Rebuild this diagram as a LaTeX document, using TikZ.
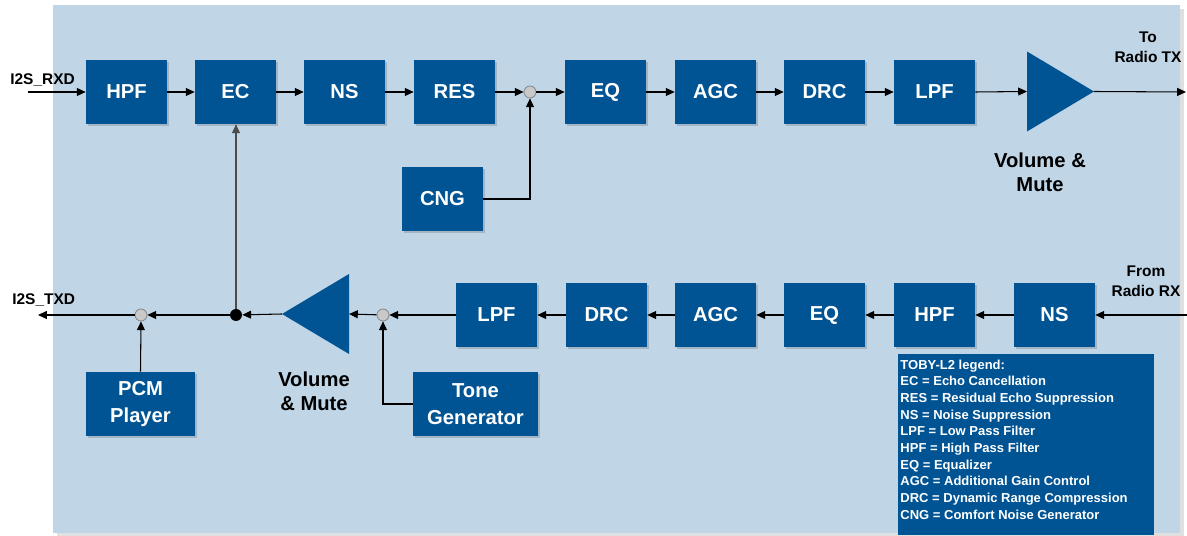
\documentclass[tikz,border=0pt]{standalone}
\usepackage{fontspec}
\setmainfont{Liberation Sans}
\usetikzlibrary{shapes.geometric,arrows.meta,shadows}
\definecolor{boxblue}{HTML}{005494}
\definecolor{panel}{HTML}{C0D5E6}
\definecolor{junc}{HTML}{C8C8C8}

\begin{document}
\begin{tikzpicture}[x=0.02cm, y=-0.02cm,
  block/.style={rectangle, fill=boxblue, text=white, minimum width=1.62cm, minimum height=1.28cm, inner sep=0pt, align=center, font=\bfseries\fontsize{11.5}{15.3}\selectfont,
    drop shadow={shadow xshift=0.45mm, shadow yshift=-0.45mm, fill=black, opacity=0.15}},
  amp/.style={isosceles triangle, isosceles triangle stretches, fill=boxblue, minimum width=1.6cm, minimum height=1.34cm, inner sep=0pt, outer sep=0pt},
  junction/.style={circle, draw=gray, fill=junc, minimum size=0.24cm, inner sep=0pt},
  tap/.style={circle, fill=black, minimum size=0.24cm, inner sep=0pt},
  sig/.style={-{Triangle[length=5pt, width=4.5pt]}, line width=0.6pt},
  tag/.style={font=\bfseries\fontsize{8.8}{11.3}\selectfont, align=center},
  caption/.style={font=\bfseries\fontsize{11.5}{13.6}\selectfont, align=center}
]
  \useasboundingbox (0,0) rectangle (1187,536);
  \fill[black, opacity=0.12] (57,9) rectangle (1184,537);
  \fill[panel] (53,5) rectangle (1180,533);

  % uplink path
  \node[block] (hpf1) at (126.5,92) {HPF};
  \node[block] (ec) at (235.5,92) {EC};
  \node[block] (ns1) at (344.5,92) {NS};
  \node[block] (res) at (454.5,92) {RES};
  \node[junction] (sum1) at (530,92) {};
  \node[block] (eq1) at (605.5,92) {EQ};
  \node[block] (agc1) at (715.5,92) {AGC};
  \node[block] (drc1) at (824.5,92) {DRC};
  \node[block] (lpf1) at (934.5,92) {LPF};
  \node[amp, anchor=lower side] (vol1) at (1027,91.5) {};
  \node[block] (cng) at (442.5,199) {CNG};
  \coordinate (rxin) at (28,92);
  \coordinate (txout) at (1186,92);

  % downlink path
  \node[block] (ns2) at (1054.5,315) {NS};
  \node[block] (hpf2) at (934.5,315) {HPF};
  \node[block] (eq2) at (824.5,315) {EQ};
  \node[block] (agc2) at (715.5,315) {AGC};
  \node[block] (drc2) at (606.5,315) {DRC};
  \node[block] (lpf2) at (496.5,315) {LPF};
  \node[junction] (sum2) at (383,315) {};
  \node[amp, shape border rotate=180, anchor=lower side] (vol2) at (349,314) {};
  \node[tap] (split) at (236,315) {};
  \node[junction] (sum3) at (141,315) {};
  \node[block, minimum width=2.18cm] (pcm) at (140.5,404) {PCM\\Player};
  \node[block, minimum width=2.5cm] (tone) at (475.5,404) {Tone\\Generator};
  \coordinate (rxradio) at (1187,315);
  \coordinate (txin) at (38,315);

  \node[tag, inner sep=0pt, anchor=base west] (rxlbl) at (10,85) {I2S\_RXD};
  \node[tag, inner sep=0pt, anchor=base west] (txlbl) at (12,305) {I2S\_TXD};
  \node[tag] (totx) at (1148,47.5) {To\\Radio TX};
  \node[tag] (fromrx) at (1146,281.5) {From\\Radio RX};
  \node[caption] (vol1lbl) at (1040,172) {Volume \&\\Mute};
  \node[caption] (vol2lbl) at (314,391) {Volume\\\& Mute};

  \node[fill=boxblue, text=white, anchor=north west, inner xsep=1.2pt, inner ysep=3pt] (legend) at (898,354)
    {\parbox[t][97pt][t]{143pt}{\bfseries\fontsize{7.4}{9.5}\selectfont
      TOBY-L2 legend:\\
      EC = Echo Cancellation\\
      RES = Residual Echo Suppression\\
      NS = Noise Suppression\\
      LPF = Low Pass Filter\\
      HPF = High Pass Filter\\
      EQ = Equalizer\\
      AGC = Additional Gain Control\\
      DRC = Dynamic Range Compression\\
      CNG = Comfort Noise Generator}};

  \draw[sig] (rxin) -- (hpf1);
  \draw[sig] (hpf1) -- (ec);
  \draw[sig] (ec) -- (ns1);
  \draw[sig] (ns1) -- (res);
  \draw[sig] (res) -- (sum1);
  \draw[sig] (sum1) -- (eq1);
  \draw[sig] (eq1) -- (agc1);
  \draw[sig] (agc1) -- (drc1);
  \draw[sig] (drc1) -- (lpf1);
  \draw[sig] (lpf1.east) -- (vol1.lower side);
  \draw[sig] (vol1.apex) -- (txout);
  \draw[sig] (cng.east) -| (sum1.south);

  \draw[sig] (rxradio) -- (ns2);
  \draw[sig] (ns2) -- (hpf2);
  \draw[sig] (hpf2) -- (eq2);
  \draw[sig] (eq2) -- (agc2);
  \draw[sig] (agc2) -- (drc2);
  \draw[sig] (drc2) -- (lpf2);
  \draw[sig] (lpf2) -- (sum2);
  \draw[sig] (sum2) -- (vol2.lower side);
  \draw[sig] (vol2.apex) -- (split);
  \draw[sig] (split) -- (sum3);
  \draw[sig] (sum3) -- (txin);
  \draw[sig] (tone.west) -| (sum2.south);
  \draw[sig] (pcm.north) -- (sum3.south);
  \draw[sig, black!70] (split) -- (split |- ec.south);
\end{tikzpicture}
\end{document}
